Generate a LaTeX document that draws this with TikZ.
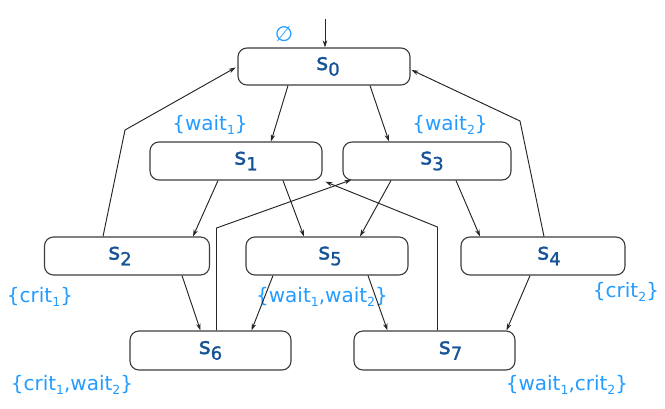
\documentclass[tikz,border=0pt]{standalone}
\usepackage{fontspec}
\setmainfont{DejaVu Sans}
\newfontfamily\stfont[FakeBold=1.3]{DejaVu Sans}
\usetikzlibrary{arrows.meta,calc}
\definecolor{stblue}{RGB}{22,82,150}
\definecolor{lblblue}{RGB}{35,155,255}
\definecolor{boxgray}{RGB}{60,60,60}
\newcommand\sn[1]{s\raisebox{-0.25em}{\fontsize{18}{18}\selectfont #1}}
\newcommand\lsb[1]{\raisebox{-0.22em}{\fontsize{12.5}{12.5}\selectfont #1}}
\tikzset{
  stbox/.style={draw=boxgray, line width=1.1pt, rounded corners=9pt, inner sep=0pt,
    minimum height=38pt, text=stblue, font=\stfont\fontsize{23}{23}\selectfont},
  lbl/.style={text=lblblue, inner sep=0pt, font=\fontsize{20}{20}\selectfont},
  arr/.style={-{Stealth[length=7pt,width=4.5pt]}, line width=0.95pt, draw=black!85}
}
\begin{document}
\begin{tikzpicture}[x=1pt,y=-1pt]
\useasboundingbox (0,0) rectangle (665,408);
% states
\node[stbox, minimum width=172pt, minimum height=37pt] (s0) at (324,66.5) {\hspace*{8pt}\sn{0}};
\node[stbox, minimum width=172pt] (s1) at (236,161) {\hspace*{20pt}\sn{1}};
\node[stbox, minimum width=168pt] (s3) at (427,161) {\hspace*{10pt}\sn{3}};
\node[stbox, minimum width=165pt] (s2) at (127,256) {\sn{2}\hspace*{14pt}};
\node[stbox, minimum width=162pt] (s5) at (327,256) {\hspace*{6pt}\sn{5}};
\node[stbox, minimum width=164pt] (s4) at (543,256) {\hspace*{12pt}\sn{4}};
\node[stbox, minimum width=161pt, minimum height=39pt] (s6) at (210.5,350.5) {\sn{6}};
\node[stbox, minimum width=161pt, minimum height=39pt] (s7) at (434.5,350.5) {\hspace*{32pt}\sn{7}};
% labels
\node[lbl, font=\fontsize{21}{21}\selectfont] (l0) at (284,34) {∅};
\node[lbl] (l1) at (210,125) {\{wait\lsb{1}\}};
\node[lbl] (l3) at (450,125) {\{wait\lsb{2}\}};
\node[lbl] (l2) at (40,297) {\{crit\lsb{1}\}};
\node[lbl] (l5) at (322,297) {\{wait\lsb{1},wait\lsb{2}\}};
\node[lbl] (l4) at (626,292) {\{crit\lsb{2}\}};
\node[lbl] (l6) at (72,385) {\{crit\lsb{1},wait\lsb{2}\}};
\node[lbl] (l7) at (567,385) {\{wait\lsb{1},crit\lsb{2}\}};
% helper coordinates
\coordinate (init) at (325,19);
\coordinate (k1) at (125,130);
\coordinate (k2) at (520,121);
\coordinate (k3) at (216.5,228);
\coordinate (k4) at (437.5,227);
% edges
\draw[arr] (init) -- (s0.north -| init);
\draw[arr] ([xshift=-36pt]s0.south) -- ([xshift=35pt]s1.north);
\draw[arr] ([xshift=46pt]s0.south) -- ([xshift=-38pt]s3.north);
\draw[arr] ([xshift=-18pt]s1.south) -- ([xshift=66pt]s2.north);
\draw[arr] ([xshift=47pt]s1.south) -- ([xshift=-23pt]s5.north);
\draw[arr] ([xshift=-36pt]s3.south) -- ([xshift=33pt]s5.north);
\draw[arr] ([xshift=29pt]s3.south) -- ([xshift=-63pt]s4.north);
\draw[arr] ([xshift=55pt]s2.south) -- ([xshift=-10pt]s6.north);
\draw[arr] ([xshift=-54pt]s5.south) -- ([xshift=41pt]s6.north);
\draw[arr] ([xshift=41pt]s5.south) -- ([xshift=-47pt]s7.north);
\draw[arr] ([xshift=-13pt]s4.south) -- ([xshift=72pt]s7.north);
\draw[arr, shorten >=2pt] ([xshift=-24pt]s2.north) -- (k1) -- (s0.west);
\draw[arr, shorten >=1pt] ([xshift=1pt]s4.north) -- (k2) -- ([yshift=-3pt]s0.east);
\draw[arr, shorten >=-2pt] ([xshift=6pt]s6.north) -- (k3) -- ([xshift=7pt]s3.south west);
\draw[arr, shorten >=3pt] ([xshift=3pt]s7.north) -- (k4) -- (s1.south east);
\end{tikzpicture}
\end{document}
